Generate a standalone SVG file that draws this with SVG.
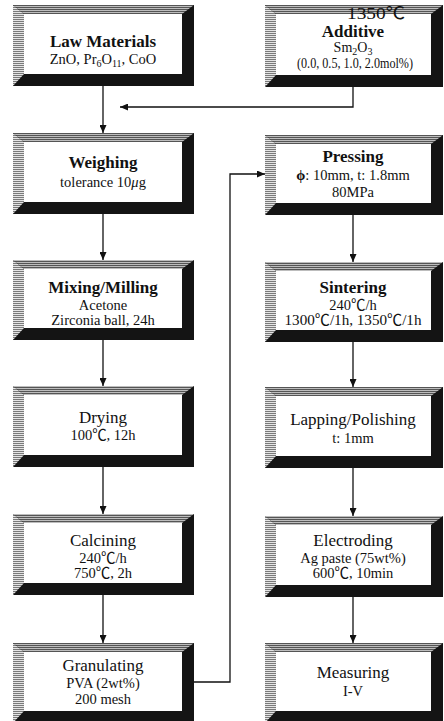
<svg xmlns="http://www.w3.org/2000/svg" width="444" height="721" viewBox="0 0 444 721">
<style>
.frame{fill:#141414}
.bl{fill:url(#stripeL)}
.bt{fill:url(#stripeT)}
.inner{fill:#fff}
.t{font-family:"Liberation Serif","Noto Sans CJK JP",serif;fill:#111;text-anchor:middle}
.h{font-size:17px;font-weight:bold}
.h2{font-size:17px}
.b{font-size:14.5px}
.c{fill:none;stroke:#111;stroke-width:1.3}
</style>
<defs>
<pattern id="stripeL" width="4" height="2" patternUnits="userSpaceOnUse">
<rect width="4" height="2" fill="#e4e4e4"/><rect y="1" width="4" height="1" fill="#7a7a7a"/>
</pattern>
<pattern id="stripeT" width="4" height="2" patternUnits="userSpaceOnUse">
<rect width="4" height="2" fill="#bdbdbd"/><rect y="1" width="4" height="1" fill="#555"/>
</pattern>
<marker id="ar" markerWidth="8" markerHeight="7" refX="8" refY="3.5" orient="auto" markerUnits="userSpaceOnUse">
<path d="M0,0 L8,3.5 L0,7 Z" fill="#111"/>
</marker>
</defs>

<g id="law">
<rect class="frame" x="13" y="5" width="181" height="81"/>
<polygon class="bl" points="13,5 24,14 24,74 13,86"/>
<polygon class="bt" points="13,5 194,5 182,14 24,14"/>
<rect class="inner" x="24" y="14" width="158" height="60"/>
<text class="t h" x="103" y="47" font-size="16.5">Law Materials</text>
<text class="t b" x="103" y="64">ZnO, Pr<tspan font-size="10" dy="3">6</tspan><tspan dy="-3">O</tspan><tspan font-size="10" dy="3">11</tspan><tspan dy="-3">, CoO</tspan></text>
</g>

<g id="additive">
<rect class="frame" x="265" y="5" width="178" height="82"/>
<polygon class="bl" points="265,5 276,14 276,75 265,87"/>
<polygon class="bt" points="265,5 443,5 431,14 276,14"/>
<rect class="inner" x="276" y="14" width="155" height="61"/>
<text class="t" x="376" y="19" font-size="17" textLength="58" lengthAdjust="spacingAndGlyphs">1350℃</text>
<text class="t h" x="353" y="37" font-size="16">Additive</text>
<text class="t" x="353" y="52" font-size="14">Sm<tspan font-size="10" dy="3">2</tspan><tspan dy="-3">O</tspan><tspan font-size="10" dy="3">3</tspan></text>
<text class="t" x="355" y="68" font-size="14" textLength="116" lengthAdjust="spacingAndGlyphs">(0.0, 0.5, 1.0, 2.0mol%)</text>
</g>

<g id="weighing">
<rect class="frame" x="13" y="133" width="181" height="81"/>
<polygon class="bl" points="13,133 24,142 24,202 13,214"/>
<polygon class="bt" points="13,133 194,133 182,142 24,142"/>
<rect class="inner" x="24" y="142" width="158" height="60"/>
<text class="t h" x="103" y="168">Weighing</text>
<text class="t b" x="103" y="187">tolerance 10<tspan font-style="italic">μ</tspan>g</text>
</g>

<g id="pressing">
<rect class="frame" x="265" y="135" width="178" height="80"/>
<polygon class="bl" points="265,135 276,144 276,203 265,215"/>
<polygon class="bt" points="265,135 443,135 431,144 276,144"/>
<rect class="inner" x="276" y="144" width="155" height="59"/>
<text class="t h" x="353" y="162">Pressing</text>
<text class="t b" x="353" y="180"><tspan font-weight="bold">ϕ</tspan>: 10mm, t: 1.8mm</text>
<text class="t b" x="353" y="197">80MPa</text>
</g>

<g id="mixing">
<rect class="frame" x="13" y="260" width="181" height="80"/>
<polygon class="bl" points="13,260 24,269 24,328 13,340"/>
<polygon class="bt" points="13,260 194,260 182,269 24,269"/>
<rect class="inner" x="24" y="269" width="158" height="59"/>
<text class="t h" x="103" y="293">Mixing/Milling</text>
<text class="t b" x="103" y="310">Acetone</text>
<text class="t b" x="103" y="325">Zirconia ball, 24h</text>
</g>

<g id="sintering">
<rect class="frame" x="265" y="262" width="178" height="80"/>
<polygon class="bl" points="265,262 276,271 276,330 265,342"/>
<polygon class="bt" points="265,262 443,262 431,271 276,271"/>
<rect class="inner" x="276" y="271" width="155" height="59"/>
<text class="t h" x="353" y="293">Sintering</text>
<text class="t b" x="353" y="310">240℃/h</text>
<text class="t b" x="353" y="325" textLength="137" lengthAdjust="spacingAndGlyphs">1300℃/1h, 1350℃/1h</text>
</g>

<g id="drying">
<rect class="frame" x="13" y="386" width="181" height="81"/>
<polygon class="bl" points="13,386 24,395 24,455 13,467"/>
<polygon class="bt" points="13,386 194,386 182,395 24,395"/>
<rect class="inner" x="24" y="395" width="158" height="60"/>
<text class="t h2" x="103" y="423">Drying</text>
<text class="t b" x="103" y="440">100℃, 12h</text>
</g>

<g id="lapping">
<rect class="frame" x="265" y="387" width="178" height="81"/>
<polygon class="bl" points="265,387 276,396 276,456 265,468"/>
<polygon class="bt" points="265,387 443,387 431,396 276,396"/>
<rect class="inner" x="276" y="396" width="155" height="60"/>
<text class="t h2" x="353" y="425">Lapping/Polishing</text>
<text class="t b" x="353" y="443">t: 1mm</text>
</g>

<g id="calcining">
<rect class="frame" x="13" y="514" width="181" height="81"/>
<polygon class="bl" points="13,514 24,523 24,583 13,595"/>
<polygon class="bt" points="13,514 194,514 182,523 24,523"/>
<rect class="inner" x="24" y="523" width="158" height="60"/>
<text class="t h2" x="103" y="546">Calcining</text>
<text class="t b" x="103" y="563">240℃/h</text>
<text class="t b" x="103" y="578">750℃, 2h</text>
</g>

<g id="electroding">
<rect class="frame" x="265" y="516" width="178" height="81"/>
<polygon class="bl" points="265,516 276,525 276,585 265,597"/>
<polygon class="bt" points="265,516 443,516 431,525 276,525"/>
<rect class="inner" x="276" y="525" width="155" height="60"/>
<text class="t h2" x="353" y="546">Electroding</text>
<text class="t b" x="353" y="563">Ag paste (75wt%)</text>
<text class="t b" x="353" y="578">600℃, 10min</text>
</g>

<g id="granulating">
<rect class="frame" x="13" y="643" width="181" height="80"/>
<polygon class="bl" points="13,643 24,652 24,711 13,723"/>
<polygon class="bt" points="13,643 194,643 182,652 24,652"/>
<rect class="inner" x="24" y="652" width="158" height="59"/>
<text class="t h2" x="103" y="671">Granulating</text>
<text class="t b" x="103" y="688">PVA (2wt%)</text>
<text class="t b" x="103" y="704">200 mesh</text>
</g>

<g id="measuring">
<rect class="frame" x="265" y="643" width="178" height="80"/>
<polygon class="bl" points="265,643 276,652 276,711 265,723"/>
<polygon class="bt" points="265,643 443,643 431,652 276,652"/>
<rect class="inner" x="276" y="652" width="155" height="59"/>
<text class="t h2" x="353" y="678">Measuring</text>
<text class="t b" x="353" y="696">I-V</text>
</g>

<g id="connectors">
<path class="c" d="M103,86 V133" marker-end="url(#ar)"/>
<path class="c" d="M353,87 V107 H120" marker-end="url(#ar)"/>
<path class="c" d="M103,214 V260" marker-end="url(#ar)"/>
<path class="c" d="M103,340 V386" marker-end="url(#ar)"/>
<path class="c" d="M103,467 V514" marker-end="url(#ar)"/>
<path class="c" d="M103,595 V643" marker-end="url(#ar)"/>
<path class="c" d="M194,682 H230 V174 H265" marker-end="url(#ar)"/>
<path class="c" d="M353,215 V262" marker-end="url(#ar)"/>
<path class="c" d="M353,342 V387" marker-end="url(#ar)"/>
<path class="c" d="M353,468 V516" marker-end="url(#ar)"/>
<path class="c" d="M353,597 V643" marker-end="url(#ar)"/>
</g>
</svg>
